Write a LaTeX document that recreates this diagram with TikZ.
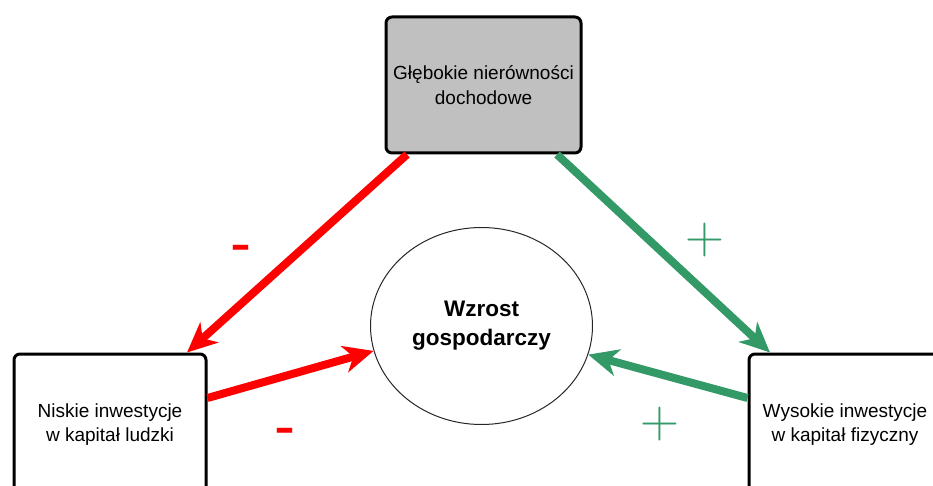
\documentclass[tikz,border=0pt]{standalone}
\usepackage{fontspec}
\setmainfont{Liberation Sans}
\newfontfamily\thinfont{Latin Modern Roman}
\usetikzlibrary{arrows.meta,shapes.geometric}
\definecolor{negred}{HTML}{FF0000}
\definecolor{posgreen}{HTML}{339966}
\definecolor{boxgray}{HTML}{C0C0C0}
\begin{document}
\begin{tikzpicture}[x=1pt,y=-1pt,
  factor/.style={draw=black, line width=3pt, rounded corners=6pt,
    minimum width=192pt, minimum height=141pt, align=center, inner sep=0pt,
    font=\fontsize{19}{24.5}\selectfont},
  growth/.style={ellipse, draw=black!85, line width=1pt,
    minimum width=222pt, minimum height=197pt, align=center, inner sep=0pt,
    font=\fontsize{22.5}{29}\selectfont\bfseries},
  link/.style={line width=8pt, -{Stealth[length=30pt,width=27pt,inset=9pt]}},
  neglink/.style={link, draw=negred},
  poslink/.style={link, draw=posgreen},
  minussign/.style={text=negred, inner sep=0pt, anchor=base,
    font=\fontsize{63}{63}\selectfont},
  plussign/.style={text=posgreen, inner sep=0pt,
    font=\fontsize{54}{54}\thinfont}
]
\useasboundingbox (0,0) rectangle (933,486);
\clip (0,0) rectangle (933,486);

% the four factors
\node[factor, fill=boxgray, minimum width=195pt, minimum height=136pt]
  (inequality) at (483.5,85) {Głębokie nierówności\\dochodowe};
\node[factor] (human) at (110,424.5) {Niskie inwestycje\\w kapitał ludzki};
\node[factor] (physical) at (845,424.5) {Wysokie inwestycje\\w kapitał fizyczny};
\node[growth] (growth) at (481.5,326) {Wzrost\\gospodarczy};

% arrow end points on the box borders
\coordinate (ineqL) at ([xshift=22.5pt]inequality.south west);
\coordinate (ineqR) at ([xshift=-25.5pt]inequality.south east);
\coordinate (humanTop) at ([xshift=-20.5pt]human.north east);
\coordinate (humanOut) at ([yshift=26.5pt]human.east);
\coordinate (physTop) at ([xshift=22.5pt]physical.north west);
\coordinate (physOut) at ([yshift=26.5pt]physical.west);

% effects
\draw[neglink] (ineqL) -- (humanTop);
\draw[neglink] (humanOut) -- (growth.193);
\draw[poslink] (ineqR) -- (physTop);
\draw[poslink] (physOut) -- (growth.345);

% signs
\node[minussign] (signA) at (241,264.5) {-};
\node[minussign] (signB) at (285,447.5) {-};
\node[plussign] (signC) at (705,240) {+};
\node[plussign] (signD) at (660,424.5) {+};
\end{tikzpicture}
\end{document}
